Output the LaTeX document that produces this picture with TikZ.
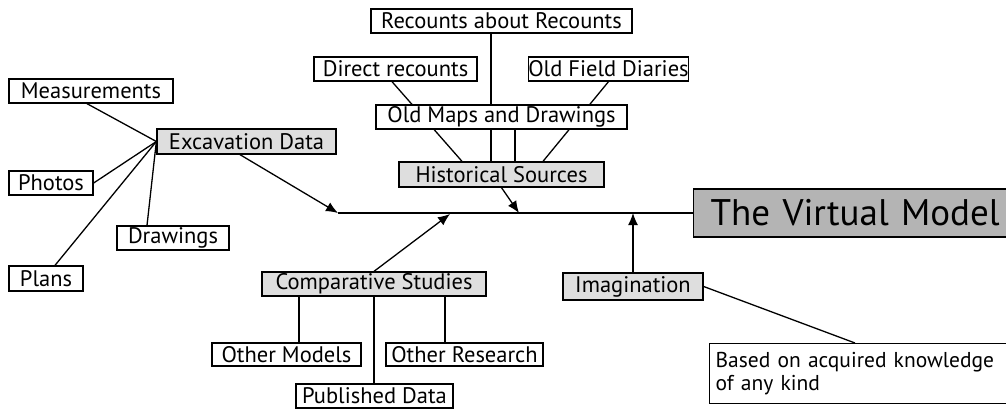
\documentclass[tikz,border=0pt]{standalone}
\usepackage{fontspec}
\setmainfont{PT Sans}
\usetikzlibrary{arrows.meta,backgrounds}
\definecolor{lightfill}{HTML}{DEDEDE}
\definecolor{darkfill}{HTML}{B4B4B4}
\begin{document}
\begin{tikzpicture}[x=1pt,y=-1pt,
  box/.style={draw=black,line width=1.3pt,fill=white,inner sep=0pt,font=\fontsize{22.5}{24}\selectfont},
  gbox/.style={box,fill=lightfill},
  conn/.style={line width=1.3pt},
  arr/.style={conn,-{Latex[length=12pt,width=10pt]}}]
\useasboundingbox (0,0) rectangle (1006,409);
% left group
\node[box,minimum width=164pt,minimum height=24pt] (meas) at (91,91) {Measurements};
\node[gbox,minimum width=179pt,minimum height=25pt] (exc) at (246.5,141.5) {Excavation Data};
\node[box,minimum width=84pt,minimum height=24pt] (photos) at (51,183) {Photos};
\node[box,minimum width=112pt,minimum height=24pt] (drawings) at (173,238) {Drawings};
\node[box,minimum width=74pt,minimum height=25pt] (plans) at (46,278.5) {Plans};
% top group
\node[box,minimum width=261pt,minimum height=24pt] (rr) at (501.5,21) {Recounts about Recounts};
\node[box,minimum width=163pt,minimum height=24pt] (direct) at (395.5,69) {Direct recounts};
\node[box,minimum width=159pt,minimum height=24pt] (ofd) at (608.5,69) {Old Field Diaries};
\node[box,minimum width=251pt,minimum height=24pt] (oldmaps) at (501.5,117) {Old Maps and Drawings};
\node[gbox,minimum width=205pt,minimum height=25pt] (hist) at (501.5,174.5) {Historical Sources};
% bottom group
\node[gbox,minimum width=224pt,minimum height=24pt] (comp) at (374,284) {Comparative Studies};
\node[box,minimum width=149pt,minimum height=23pt] (om) at (286.5,354.5) {Other Models};
\node[box,minimum width=157pt,minimum height=23pt] (orr) at (464.5,354.5) {Other Research};
\node[box,minimum width=157pt,minimum height=24pt] (pub) at (374.5,396) {Published Data};
% right group
\node[box,fill=darkfill,anchor=west,minimum height=48pt,inner xsep=17pt,text width=290pt,align=left,font=\fontsize{37}{40}\selectfont] (vm) at (693,213) {The Virtual Model};
\node[gbox,minimum width=140pt,minimum height=27pt] (imag) at (633,286.5) {Imagination};
\node[box,anchor=north west,minimum height=60pt,inner xsep=6pt,inner ysep=5pt,text width=300pt,align=left,font=\fontsize{21.5}{23.5}\selectfont] (based) at (709,343) {Based on acquired knowledge\\of any kind};
% main axis
\coordinate (ms) at (338,213);
\coordinate (h1) at (519,213);
\coordinate (c1) at (450,214);
\coordinate (i1) at (633,213);
\begin{scope}[on background layer]
\draw[conn] ([xshift=-4pt]meas.south) -- (exc.west);
\draw[conn] (photos.east) -- (exc.west);
\draw[conn] ([xshift=-26pt]drawings.north) -- (exc.west);
\draw[conn] ([xshift=9pt]plans.north) -- (exc.west);
\draw[conn] ([xshift=-10.5pt]rr.south) -- ([xshift=-10.5pt]hist.north);
\draw[conn] ([xshift=-3.5pt]direct.south) -- ([xshift=-39.5pt]hist.north);
\draw[conn] (ofd.south) -- ([xshift=41.5pt]hist.north);
\draw[conn] ([xshift=13.5pt]oldmaps.south) -- ([xshift=13.5pt]hist.north);
\draw[conn] ([xshift=-75pt]comp.south) -- ([xshift=-75pt]comp.south |- om.north);
\draw[conn] (comp.south) -- (comp.south |- pub.north);
\draw[conn] ([xshift=71pt]comp.south) -- ([xshift=71pt]comp.south |- orr.north);
\draw[conn] (imag.east) -- ([xshift=146pt]based.north west);
\end{scope}
\draw[conn] (ms) -- (vm.west);
\draw[arr] ([xshift=-6.5pt]exc.south) -- (ms);
\draw[arr] (hist.south) -- (h1);
\draw[arr] (comp.north) -- (c1);
\draw[arr] (imag.north) -- (i1);
\end{tikzpicture}
\end{document}
